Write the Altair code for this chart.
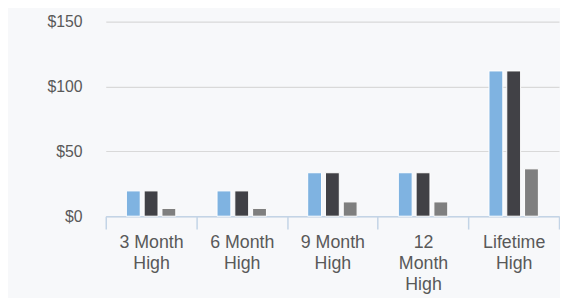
import altair as alt
import pandas as pd

categories = ["3 Month|High", "6 Month|High", "9 Month|High", "12|Month|High", "Lifetime|High"]
series = ["A", "B", "C"]
values_a = [19.5, 19.5, 33.5, 33.5, 112]
values_b = [19.5, 19.5, 33.5, 33.5, 112]
values_c = [6, 6, 11, 11, 36.5]
colors = ["#7fb3e1", "#414146", "#7f7f7f"]

rows = []
for i, c in enumerate(categories):
    for s, vals in zip(series, [values_a, values_b, values_c]):
        rows.append({"cat": c, "series": s, "value": vals[i]})
df = pd.DataFrame(rows)

yscale = alt.Scale(domain=[0, 150], nice=False)
yenc = alt.Y("value:Q", title=None, scale=yscale,
             axis=alt.Axis(values=[0, 50, 100, 150], format="$,.0f", domain=False, ticks=False,
                           labelFontSize=16, labelColor="#595959", labelFont="Liberation Sans",
                           labelPadding=24, gridColor="#d9d9d9", gridWidth=1.2))

bars = alt.Chart(df).mark_bar(stroke="white", strokeWidth=1).encode(
    x=alt.X("cat:N", sort=categories, title=None,
            scale=alt.Scale(paddingInner=0.455, paddingOuter=0.2275), axis=None),
    xOffset=alt.XOffset("series:N", sort=series,
                        scale=alt.Scale(paddingInner=0.222, paddingOuter=0)),
    y=yenc,
    color=alt.Color("series:N", sort=series,
                    scale=alt.Scale(domain=series, range=colors), legend=None),
)

axis_layer = alt.Chart(df).mark_point(opacity=0).encode(
    x=alt.X("cat:N", sort=categories, title=None,
            scale=alt.Scale(paddingInner=0, paddingOuter=0),
            axis=alt.Axis(labelExpr="split(datum.label, '|')", labelAngle=0,
                          labelFontSize=18, labelLineHeight=21, labelColor="#595959",
                          labelFont="Liberation Sans", labelPadding=5,
                          domainColor="#c3d4e6", domainWidth=1.5, tickColor="#c3d4e6",
                          tickSize=13, tickWidth=1.5, tickBand="extent", grid=False,
                          labelBaseline="top")),
    y=alt.Y("value:Q", scale=yscale),
)

chart = alt.layer(bars, axis_layer).resolve_scale(x="independent").properties(
    width=459, height=197,
    autosize=alt.AutoSizeParams(type="none"),
    padding={"left": 99, "top": 12, "right": 1, "bottom": 81},
).configure(background="#f7f8fa").configure_view(stroke=None)

chart.save("out.html", embed_options={"renderer": "svg", "actions": False})
